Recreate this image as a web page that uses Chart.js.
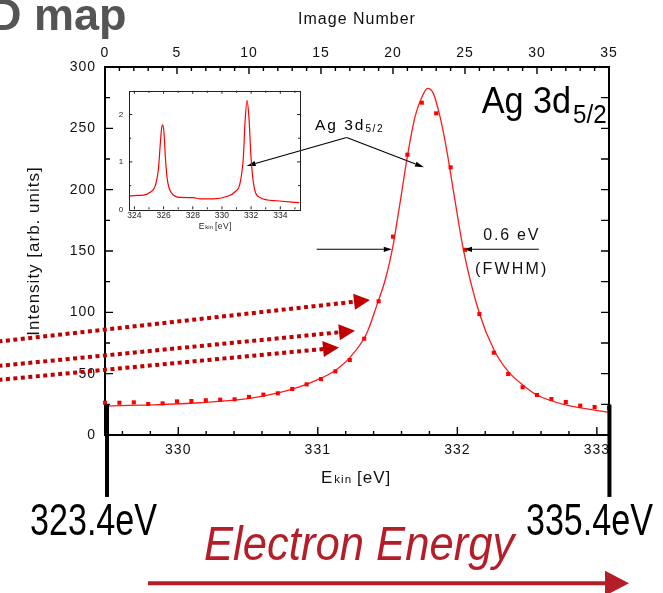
<!DOCTYPE html>
<html><head><meta charset="utf-8">
<script src="https://cdn.jsdelivr.net/npm/chart.js@4/dist/chart.umd.min.js"></script>
<style>
html,body{margin:0;padding:0;background:#fff;}
#wrap{position:relative;width:663px;height:593px;overflow:hidden;background:#fff;}
#main{position:absolute;left:0;top:0;}
#inset{position:absolute;left:100px;top:80px;}
</style></head><body>
<div id="wrap"><canvas id="main" width="663" height="593"></canvas><canvas id="inset" width="210" height="160"></canvas></div>
<script>
// ---------- data ----------
const imageNumber = [0,1,2,3,4,5,6,7,8,9,10,11,12,13,14,15,16,17,18,19,20,21,22,23,24,25,26,27,28,29,30,31,32,33,34,35];
const intensity = [26.3,26.3,26.6,25.3,25.8,27.4,27.7,28.3,28.8,29.1,31.0,32.9,34.0,37.5,41.3,45.6,51.9,61.1,78.5,109,161.7,228.5,270.9,262.2,218.2,151,98.6,67.1,49.7,38.9,32.6,29.3,26.9,23.9,22.8,22.0];
const fitEnergy = [329.475,329.80,330.156,330.514,330.753,330.872,330.992,331.111,331.231,331.351,331.422,331.487,331.537,331.589,331.644,331.697,331.747,331.788,331.828,331.876,331.924,331.971,332.043,332.158,332.263,332.366,332.469,332.571,332.777,333.086];
const fitIntensity = [23.6,24.5,26.3,29.9,35.3,39.4,44.8,51.6,63.3,82.9,105.5,128,153,188.9,228.5,259.5,275.8,282.6,278.5,259.5,232.3,199.7,151.4,99.2,69.3,51.6,40.8,32.6,24.5,18.5];
const insetEnergy = [323.66,324.0,324.62,325.08,325.42,325.64,325.76,325.86,325.94,326.03,326.12,326.26,326.56,327.13,328.04,328.50,329.41,330.33,330.90,331.24,331.47,331.58,331.72,331.86,331.99,332.20,332.61,333.75,335.30];
const insetIntensity = [0.28,0.29,0.30,0.36,0.49,0.83,1.32,1.70,1.78,1.61,1.11,0.62,0.34,0.25,0.245,0.22,0.22,0.27,0.37,0.55,1.11,1.82,2.30,1.89,1.11,0.48,0.25,0.18,0.14];
const imageTicks = [0,5,10,15,20,25,30,35];
const energyTicks = [330,331,332,333];
const intensityTicks = [0,50,100,150,200,250,300];
const insetEnergyTicks = [324,326,328,330,332,334];
const insetIntensityTicks = [0,1,2];
// energy calibration of the image number axis
const energyAtFirstImage = 329.475;
const energyPerImage = 0.1032;

const FONT = "'Liberation Sans', Arial, Helvetica, sans-serif";
Chart.defaults.font.family = FONT;
Chart.defaults.color = '#111';

function txt(ctx, s, x, y, size, opts) {
  opts = opts || {};
  ctx.save();
  ctx.font = (opts.style || '') + ' ' + (opts.weight || 'normal') + ' ' + size + 'px ' + FONT;
  ctx.fillStyle = opts.color || '#000';
  ctx.letterSpacing = (opts.ls || 0) + 'px';
  ctx.textBaseline = 'alphabetic';
  ctx.textAlign = opts.align || 'left';
  ctx.translate(x, y);
  ctx.scale(opts.sx || 1, 1);
  ctx.fillText(s, 0, 0);
  const w = ctx.measureText(s).width * (opts.sx || 1);
  ctx.restore();
  return w;
}
function arrowHead(ctx, x1, y1, x2, y2, len, hw) {
  const a = Math.atan2(y2 - y1, x2 - x1), c = Math.cos(a), s = Math.sin(a);
  ctx.beginPath();
  ctx.moveTo(x2, y2);
  ctx.lineTo(x2 - len * c + hw * s, y2 - len * s - hw * c);
  ctx.lineTo(x2 - len * c - hw * s, y2 - len * s + hw * c);
  ctx.closePath();
  ctx.fill();
}
function arrow(ctx, x1, y1, x2, y2, len, hw, dash) {
  const a = Math.atan2(y2 - y1, x2 - x1);
  const bx = x2 - len * Math.cos(a), by = y2 - len * Math.sin(a);
  ctx.setLineDash(dash || []);
  ctx.beginPath(); ctx.moveTo(x1, y1); ctx.lineTo(bx, by); ctx.stroke();
  ctx.setLineDash([]);
  arrowHead(ctx, x1, y1, x2, y2, len, hw);
}

const mainDeco = {
  id: 'mainDeco',
  beforeDraw(chart) { chart.ctx.letterSpacing = '1px'; },
  afterDraw(chart) {
    const ctx = chart.ctx, ca = chart.chartArea, sc = chart.scales;
    const X = v => sc.x.getPixelForValue(v), XE = v => sc.e.getPixelForValue(v), Y = v => sc.y.getPixelForValue(v);
    ctx.save();
    ctx.letterSpacing = '0px';
    // inward tick marks
    ctx.strokeStyle = '#000'; ctx.lineWidth = 1.4;
    ctx.beginPath();
    for (let n = 0; n <= 35; n++) { const p = X(n), L = n % 5 === 0 ? 7 : 4; ctx.moveTo(p, ca.top); ctx.lineTo(p, ca.top + L); }
    for (let k = Math.ceil(sc.e.min * 5); k <= Math.floor(sc.e.max * 5); k++) { const p = XE(k / 5), L = k % 5 === 0 ? 8 : 4; ctx.moveTo(p, ca.bottom); ctx.lineTo(p, ca.bottom - L); }
    for (let v = 25; v < 300; v += 25) { const p = Y(v); ctx.moveTo(ca.left, p); ctx.lineTo(ca.left + (v % 50 === 0 ? 8 : 5), p); ctx.moveTo(ca.right, p); ctx.lineTo(ca.right - 8, p); }
    ctx.stroke();

    // bottom axis title E_kin [eV]
    let cx = (ca.left + ca.right) / 2 - 36, by = 483;
    cx += txt(ctx, 'E', cx, by, 17, {ls: 1, color: '#111'});
    cx += txt(ctx, 'kin', cx + 1, by, 11.5, {ls: 1, color: '#111'}) + 6;
    txt(ctx, '[eV]', cx, by, 17, {ls: 1, color: '#111'});

    // big label Ag 3d5/2
    let lx = X(26.16);
    lx += txt(ctx, 'Ag 3d', lx, Y(262.5), 36, {sx: 0.95});
    txt(ctx, '5/2', lx + 2, Y(254.3), 26, {sx: 0.93});

    // small label with arrows
    let sx0 = X(14.58);
    sx0 += txt(ctx, 'Ag 3d', sx0, Y(248.5), 15.5, {ls: 2});
    txt(ctx, '5/2', sx0, Y(246.8), 10, {ls: 1.6});
    ctx.strokeStyle = '#000'; ctx.fillStyle = '#000'; ctx.lineWidth = 1.1;
    const vx = X(16.78), vy = Y(242.5);
    arrow(ctx, vx, vy, X(22.15), Y(218.2), 9, 2.6);
    arrow(ctx, vx, vy, X(9.84), Y(219.3), 9, 2.6);

    // FWHM arrows
    arrow(ctx, XE(330.992), Y(151.4), XE(331.530), Y(151.4), 8, 2.6);
    arrow(ctx, XE(332.584), Y(151.4), XE(332.048), Y(151.4), 8, 2.6);
    txt(ctx, '0.6 eV', XE(332.39), Y(158.9), 16, {ls: 1.8, align: 'center', color: '#111'});
    txt(ctx, '(FWHM)', XE(332.39), Y(131.2), 16, {ls: 2.2, align: 'center', color: '#111'});

    // dotted dark-red arrows coming from the left
    ctx.strokeStyle = '#c00000'; ctx.fillStyle = '#c00000'; ctx.lineWidth = 4; ctx.lineCap = 'butt';
    arrow(ctx, X(-7.4), Y(76.2), X(18.40), Y(110.1), 16, 8, [4, 3.5]);
    arrow(ctx, X(-7.4), Y(56.3), X(17.36), Y(85.0), 16, 8, [4, 3.5]);
    arrow(ctx, X(-7.4), Y(44.9), X(16.25), Y(71.3), 16, 8, [4, 3.5]);

    // thick black bars marking the energy window
    ctx.fillStyle = '#000';
    const barTop = Y(24.9), barBot = Y(-50.5);
    ctx.fillRect(X(0.14) - 2, barTop, 4, barBot - barTop);
    ctx.fillRect(X(35.03) - 2, barTop, 4, barBot - barTop);
    txt(ctx, '323.4eV', X(0.14) - 13.5, 535, 44, {sx: 0.775, align: 'center'});
    txt(ctx, '335.4eV', X(35.03) - 20, 535, 44, {sx: 0.775, align: 'center'});

    // Electron Energy + arrow
    const ee = '#b41e28';
    txt(ctx, 'Electron Energy', 204, 560, 49, {style: 'italic', sx: 0.89, color: ee});
    ctx.fillStyle = ee; ctx.strokeStyle = ee; ctx.lineWidth = 4;
    arrow(ctx, 148, 583.3, 629, 583.3, 24, 12.5);

    // cropped heading
    txt(ctx, 'D map', -11, 30, 45, {weight: 'bold', color: '#555'});
    ctx.restore();
  }
};

const main = new Chart(document.getElementById('main'), {
  type: 'scatter',
  data: { datasets: [
    { label: 'fit', data: fitEnergy.map((v, i) => ({x: v, y: fitIntensity[i]})), xAxisID: 'e', yAxisID: 'y',
      showLine: true, borderColor: '#ff1a1a', borderWidth: 1.3, pointRadius: 0, cubicInterpolationMode: 'monotone', order: 2 },
    { label: 'data', data: imageNumber.map((v, i) => ({x: v, y: intensity[i]})), xAxisID: 'x', yAxisID: 'y',
      showLine: false, pointStyle: 'rect', pointRadius: 2.9, backgroundColor: '#ff0000', pointBackgroundColor: '#ff0000', pointBorderWidth: 0, clip: false, order: 1 }
  ]},
  options: {
    responsive: false, animation: false, devicePixelRatio: 1,
    layout: {padding: 0},
    plugins: {legend: {display: false}, tooltip: {enabled: false}},
    scales: {
      x: { type: 'linear', position: 'top', min: 0, max: 35,
        afterBuildTicks: s => { s.ticks = imageTicks.map(v => ({value: v})); },
        afterFit: s => { s.height = 67; },
        grid: {display: false, drawTicks: false}, border: {display: true, color: '#000', width: 2},
        ticks: {font: {size: 14}, padding: 5.5, color: '#111', maxRotation: 0, autoSkip: false, callback: v => String(v)},
        title: {display: true, text: 'Image Number', font: {size: 16}, color: '#111', padding: {top: 9.5, bottom: 0}} },
      e: { type: 'linear', position: 'bottom', min: energyAtFirstImage, max: energyAtFirstImage + 35 * energyPerImage,
        afterBuildTicks: s => { s.ticks = energyTicks.map(v => ({value: v})); },
        afterFit: s => { s.height = 158; },
        grid: {display: false, drawTicks: false}, border: {display: true, color: '#000', width: 2},
        ticks: {font: {size: 14}, padding: 7, color: '#111', maxRotation: 0, autoSkip: false, callback: v => String(v)} },
      y: { type: 'linear', position: 'left', min: 0, max: 300,
        afterBuildTicks: s => { s.ticks = intensityTicks.map(v => ({value: v})); },
        afterFit: s => { s.width = 105; },
        grid: {display: false, drawTicks: false}, border: {display: true, color: '#000', width: 2},
        ticks: {font: {size: 14}, padding: 9, color: '#111', autoSkip: false, callback: v => String(v)},
        title: {display: true, text: 'Intensity [arb. units]', font: {size: 17}, color: '#111', padding: {top: 24, bottom: 0}} },
      yr: { type: 'linear', position: 'right', min: 0, max: 300,
        afterFit: s => { s.width = 54; },
        grid: {display: false, drawTicks: false}, border: {display: true, color: '#000', width: 2},
        ticks: {display: false} }
    }
  },
  plugins: [mainDeco]
});

const insetDeco = {
  id: 'insetDeco',
  afterDraw(chart) {
    const ctx = chart.ctx, ca = chart.chartArea, sc = chart.scales;
    ctx.save();
    ctx.strokeStyle = '#222'; ctx.lineWidth = 1;
    ctx.strokeRect(Math.round(ca.left) + 0.5, Math.round(ca.top) + 0.5, Math.round(ca.right - ca.left), Math.round(ca.bottom - ca.top));
    ctx.beginPath();
    for (let v = 324; v <= 335; v++) { const p = sc.x.getPixelForValue(v), L = v % 2 === 0 ? 3 : 2; ctx.moveTo(p, ca.bottom); ctx.lineTo(p, ca.bottom - L); ctx.moveTo(p, ca.top); ctx.lineTo(p, ca.top + L); }
    for (let v = 0.5; v < 2.5; v += 0.5) { const p = sc.y.getPixelForValue(v), L = v % 1 === 0 ? 3 : 2; ctx.moveTo(ca.left, p); ctx.lineTo(ca.left + L, p); ctx.moveTo(ca.right, p); ctx.lineTo(ca.right - L, p); }
    ctx.stroke();
    let cx = (ca.left + ca.right) / 2 - 16;
    cx += txt(ctx, 'E', cx, 149, 8.5, {color: '#222'});
    cx += txt(ctx, 'kin', cx + 1, 149, 6, {color: '#222'}) + 3;
    txt(ctx, '[eV]', cx, 149, 8.5, {color: '#222', ls: 0.4});
    ctx.restore();
  }
};

const inset = new Chart(document.getElementById('inset'), {
  type: 'scatter',
  data: { datasets: [
    { label: 'spectrum', data: insetEnergy.map((v, i) => ({x: v, y: insetIntensity[i]})),
      showLine: true, borderColor: '#ff0000', borderWidth: 1.2, pointRadius: 0, cubicInterpolationMode: 'monotone' }
  ]},
  options: {
    responsive: false, animation: false, devicePixelRatio: 1,
    layout: {padding: {top: 10, right: 10, left: 0, bottom: 0}},
    plugins: {legend: {display: false}, tooltip: {enabled: false}},
    scales: {
      x: { type: 'linear', position: 'bottom', min: 323.65, max: 335.35,
        afterBuildTicks: s => { s.ticks = insetEnergyTicks.map(v => ({value: v})); },
        afterFit: s => { s.height = 30.7; },
        grid: {display: false, drawTicks: false}, border: {display: false},
        ticks: {font: {size: 8.5}, padding: 1.6, color: '#222', maxRotation: 0, autoSkip: false, callback: v => String(v)} },
      y: { type: 'linear', position: 'left', min: 0, max: 2.5,
        afterBuildTicks: s => { s.ticks = insetIntensityTicks.map(v => ({value: v})); },
        afterFit: s => { s.width = 29.3; },
        grid: {display: false, drawTicks: false}, border: {display: false},
        ticks: {font: {size: 8}, padding: 6, color: '#222', autoSkip: false, callback: v => String(v)} }
    }
  },
  plugins: [insetDeco]
});
</script>
</body></html>
